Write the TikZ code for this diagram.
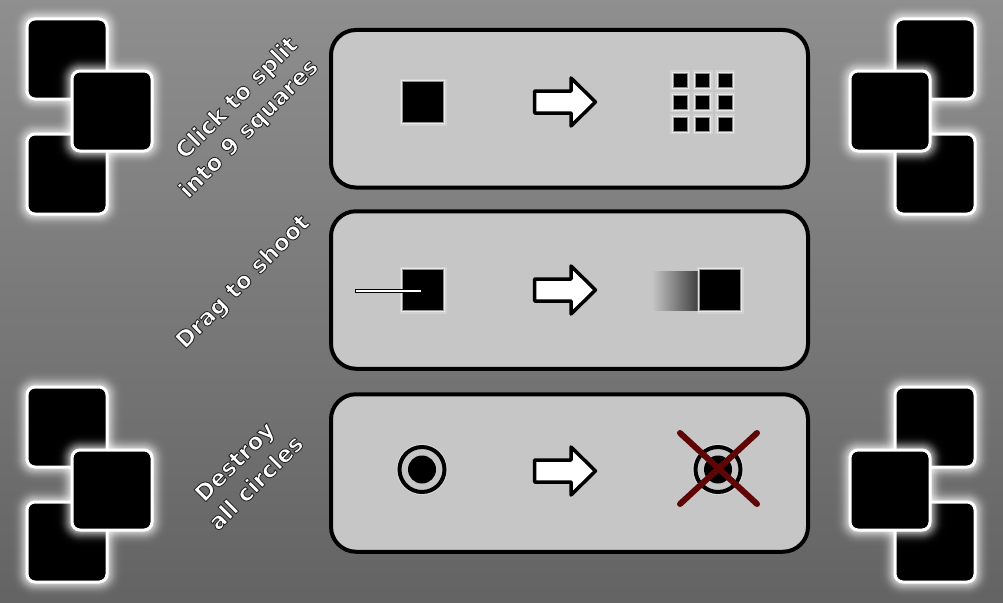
\documentclass[tikz,border=0pt]{standalone}
\usepackage{fontspec}
\setmainfont{DejaVu Sans}
\usetikzlibrary{positioning}
\definecolor{panelgray}{HTML}{C6C6C6}
\definecolor{crossred}{HTML}{5F0505}
\newcommand{\outlined}[1]{\special{pdf:code 2 Tr 0.9 w 1 j 0.15 G}#1\special{pdf:code 0 Tr 1 w 0 j}}
\tikzset{
    panel/.style={draw=black, line width=4pt, fill=panelgray, rounded corners=25pt, inner sep=0pt, minimum width=477pt, minimum height=157.5pt},
    bigsquare/.style={fill=black, rounded corners=8pt, inner sep=0pt, minimum size=80pt},
    halo/.style={fill=white, fill opacity=#1, rounded corners=8pt+\g pt, inner sep=0pt, minimum size=80pt+2*\g pt},
    iconsquare/.style={fill=black, draw=white, draw opacity=0.55, line width=2pt, inner sep=0pt, minimum size=#1,
        preaction={draw=white, draw opacity=0.22, line width=5pt}},
    caption/.style={rotate=45, align=center, text=white, font=\fontsize{23}{30}\selectfont\bfseries},
    pics/goarrow/.style={code={
        \draw[line width=3.5pt, line join=round, fill=white] (-30.5,-11) -- (6,-11) -- (6,-24) -- (30.5,0) -- (6,24) -- (6,11) -- (-30.5,11) -- cycle;
    }},
    pics/target/.style={code={
        \draw[draw=white, draw opacity=0.35, line width=5pt] (0,0) circle (23);
        \draw[line width=4pt, fill=panelgray] (0,0) circle (22.5);
        \fill (0,0) circle (14);
    }}
}
\newcommand{\glowsquare}[3]{%
    \foreach \g in {18,17,...,1} {
        \pgfmathsetmacro{\op}{0.004+0.2*((19-\g)/18)^2.5}
        \node[halo=\op] at (#2,#3) {};
    }
    \node[bigsquare, draw=white, line width=3pt] (#1) at (#2,#3) {};
}
\begin{document}
\begin{tikzpicture}[x=1pt, y=-1pt]
    \useasboundingbox (0,0) rectangle (1003,602);
    \shade[top color=black!44, bottom color=black!61] (0,0) rectangle (1003,602);

    % the four clusters
    \foreach \n/\xa/\xb in {l/67/112, r/935/890} {
        \glowsquare{\n a}{\xa}{59}
        \glowsquare{\n c}{\xa}{174}
        \glowsquare{\n b}{\xb}{111}
        \glowsquare{\n d}{\xa}{427}
        \glowsquare{\n f}{\xa}{542}
        \glowsquare{\n e}{\xb}{490}
    }

    % panels
    \node[panel] (panelone) at (569.5,108.75) {};
    \node[panel] (paneltwo) at (569.5,290) {};
    \node[panel] (panelthree) at (569.5,473) {};

    \foreach \y in {102, 290, 471}
        \pic at (565,\y) {goarrow};

    % first row
    \node[iconsquare=42pt] (single) at (423,102) {};
    \foreach \x in {680, 702.5, 725}
        \foreach \y in {80, 102, 124}
            \node[iconsquare=15pt] at (\x,\y) {};

    % second row
    \node[iconsquare=42pt] (shooter) at (423,290) {};
    \draw[line width=4pt] (355,290.5) -- (422,290.5);
    \draw[line width=2pt, white] (356,290.5) -- (421,290.5);
    \shade[left color=panelgray, right color=black!75] (652,271) rectangle (698,310);
    \node[iconsquare=42pt] (shot) at (720,290) {};

    % third row
    \pic at (422,469.5) {target};
    \pic at (718,469.5) {target};
    \coordinate (crossa) at (680,433);
    \coordinate (crossb) at (757,504);
    \coordinate (crossc) at (757,433);
    \coordinate (crossd) at (680,504);
    \draw[crossred, line width=6pt, line cap=round] (crossa) -- (crossb);
    \draw[crossred, line width=6pt, line cap=round] (crossc) -- (crossd);

    % captions
    \node[caption] (capone) at (243.5,114) {\hspace*{13pt}\outlined{Click to split}\\\outlined{into 9 squares}\hspace*{13pt}};
    \node[caption] (captwo) at (243.5,282.5) {\outlined{Drag to shoot}};
    \node[caption] (capthree) at (245,472) {\outlined{Destroy}\\\outlined{all circles}};
\end{tikzpicture}
\end{document}
